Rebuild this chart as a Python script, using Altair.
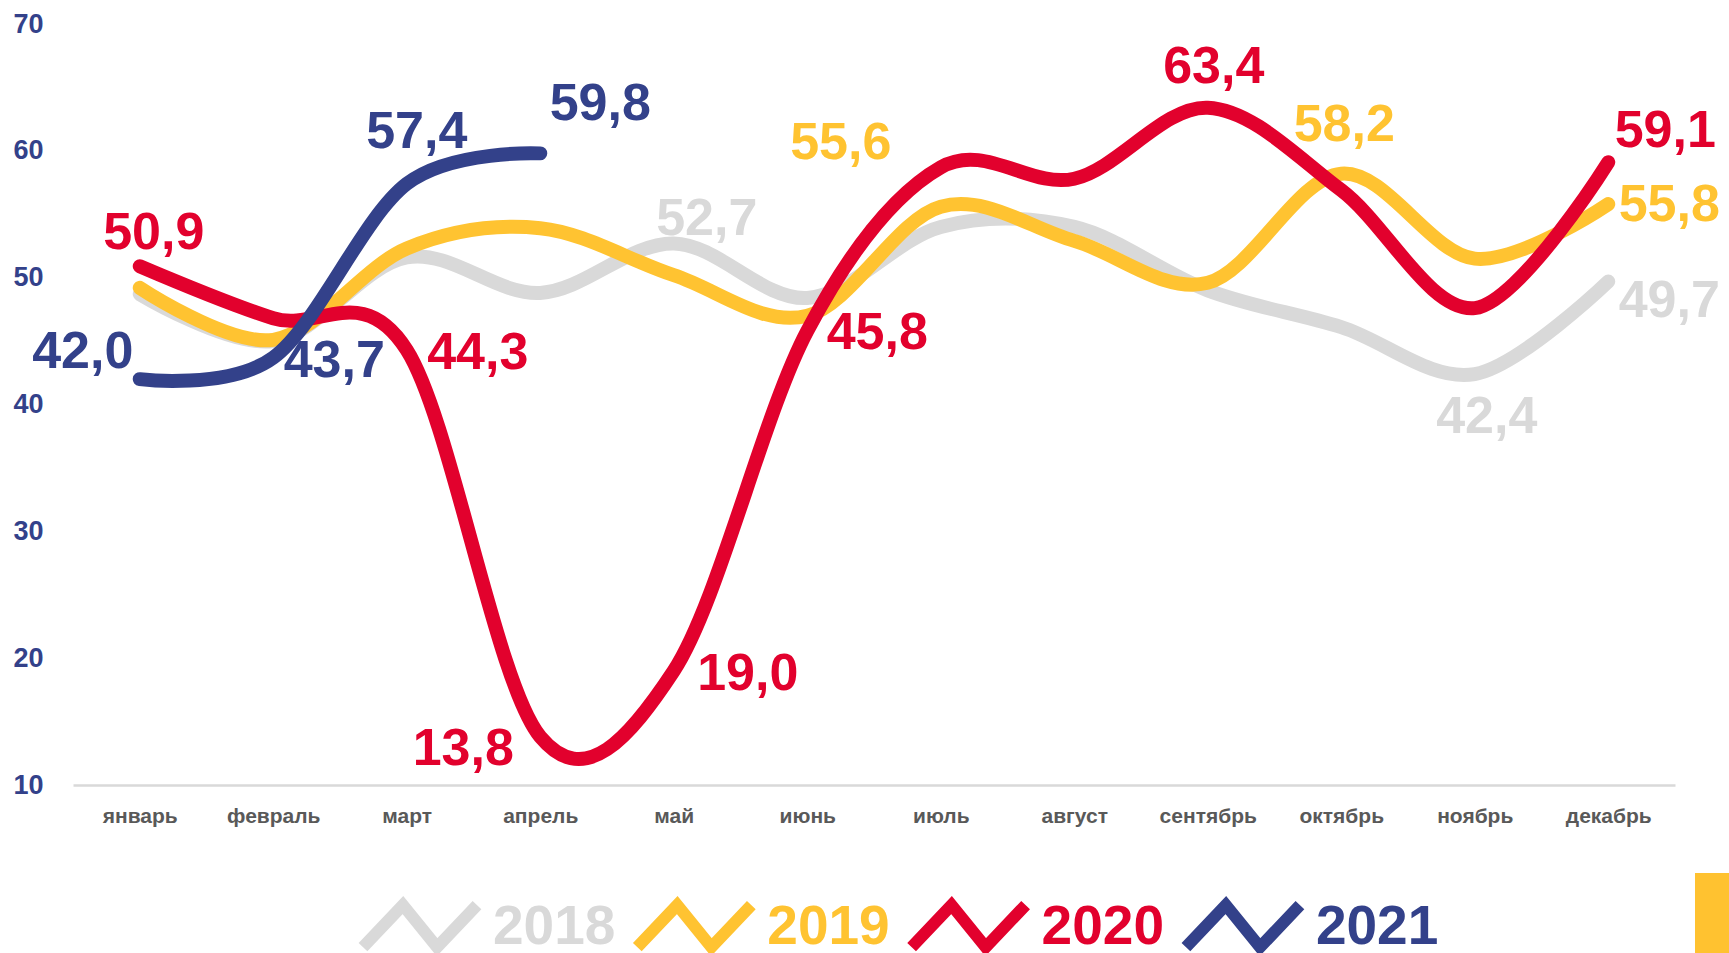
import altair as alt
import pandas as pd

FONT = "Liberation Sans"

MONTHS = ["январь", "февраль", "март", "апрель", "май", "июнь",
          "июль", "август", "сентябрь", "октябрь", "ноябрь", "декабрь"]
YEARS = ["2018", "2019", "2020", "2021"]
COLORS = ["#D9D9D9", "#FFC331", "#E2012D", "#33418A"]

V2018 = [48.7, 45.0, 51.6, 48.8, 52.7, 48.4, 54.0, 54.0, 49.0, 46.1, 42.4, 49.7]
V2019 = [49.2, 45.1, 52.3, 53.9, 50.2, 47.0, 55.6, 52.9, 49.6, 58.2, 51.5, 55.8]
V2020 = [50.9, 46.8, 44.3, 13.8, 19.0, 45.8, 58.7, 57.8, 63.4, 56.9, 47.6, 59.1]
V2021 = [42.0, 43.7, 57.4, 59.8]

Y_TICKS = [10, 20, 30, 40, 50, 60, 70]

# which values carry a data label, and the label's offset from its point (px)
LABELS = [
    ("2018", "май", 33, -24), ("2018", "ноябрь", 12, 43), ("2018", "декабрь", 61, 20),
    ("2019", "июль", -100, -64), ("2019", "октябрь", 3, -49), ("2019", "декабрь", 61, 1),
    ("2020", "январь", 14, -33), ("2020", "март", 71, 3), ("2020", "апрель", -77, 12),
    ("2020", "май", 74, 3), ("2020", "июнь", 70, 2), ("2020", "сентябрь", 6, -41),
    ("2020", "декабрь", 57, -31),
    ("2021", "январь", -57, -27), ("2021", "февраль", 61, 3), ("2021", "март", 10, -52),
    ("2021", "апрель", 60, -49),
]

rows = []
for year, vals in zip(YEARS, [V2018, V2019, V2020, V2021]):
    for m, v in zip(MONTHS, vals):
        rows.append({"year": year, "month": m, "value": v})
df = pd.DataFrame(rows)

color = alt.Color("year:N", scale=alt.Scale(domain=YEARS, range=COLORS), legend=None)

base = alt.Chart(df).transform_calculate(
    label="replace(format(datum.value, '.1f'), '.', ',')"
).encode(
    x=alt.X("month:O", sort=MONTHS, scale=alt.Scale(domain=MONTHS), title=None,
            axis=alt.Axis(labelAngle=0, labelFont=FONT, labelFontSize=21,
                          labelFontWeight="bold", labelColor="#595959",
                          domainColor="#D9D9D9", domainWidth=2.5,
                          ticks=False, tickSize=0, labelPadding=20, grid=False)),
    y=alt.Y("value:Q", scale=alt.Scale(domain=[10, 70], nice=False, zero=False), title=None,
            axis=alt.Axis(values=Y_TICKS, domain=False, ticks=False, tickSize=0, grid=False,
                          labelAlign="left", labelPadding=60, labelFont=FONT,
                          labelFontSize=27, labelFontWeight="bold", labelColor="#33418A")),
    color=color,
)

layers = []
for y in YEARS:
    layers.append(
        base.transform_filter(alt.datum.year == y).mark_line(
            interpolate="cardinal", strokeWidth=14, strokeCap="round", strokeJoin="round")
    )
for (y, m, dx, dy) in LABELS:
    layers.append(
        base.transform_filter((alt.datum.year == y) & (alt.datum.month == m)).mark_text(
            dx=dx, dy=dy, fontSize=52, fontWeight="bold", font=FONT,
            align="center", baseline="middle").encode(text="label:N")
    )

main = alt.layer(*layers).properties(width=1602, height=761)

leg_df = pd.DataFrame({"year": YEARS, "idx": list(range(len(YEARS)))})
leg_base = alt.Chart(leg_df).encode(
    x=alt.X("idx:Q", axis=None, scale=alt.Scale(domain=[-1.265, 4.648], nice=False, zero=False)),
    color=color,
)
SYMBOL = "M-1,0.6L-0.3,-0.14L0.3,0.6L1,-0.14"
sym = leg_base.mark_point(shape=SYMBOL, size=12996, strokeWidth=12, filled=False, opacity=1)
txt = leg_base.mark_text(align="left", baseline="middle", dx=73, dy=14, fontSize=55,
                         fontWeight="bold", font=FONT).encode(text="year:N")
legend = alt.layer(sym, txt).properties(width=1622, height=80)

box = alt.Chart(pd.DataFrame({"a": [0]})).mark_point(opacity=0).properties(
    width=34, height=80, view=alt.ViewBackground(fill="#FFC230", strokeWidth=0))

row = alt.hconcat(legend, box, spacing=0)

chart = alt.vconcat(main, row, spacing=47).properties(
    padding={"left": 13, "top": 10, "right": 0, "bottom": 0},
    background="white",
).configure_view(strokeWidth=0)

chart.save("out.html", embed_options={"renderer": "svg", "actions": False})
